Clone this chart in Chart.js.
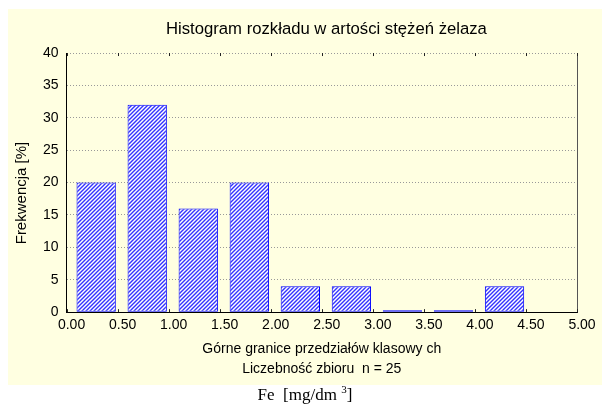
<!DOCTYPE html>
<html>
<head>
<meta charset="utf-8">
<script src="https://cdn.jsdelivr.net/npm/chart.js@4"></script>
<style>
  body { margin: 0; background: #fff; width: 602px; height: 408px; position: relative; overflow: hidden; }
  #panel { position: absolute; left: 8px; top: 9px; width: 594px; height: 376px; background: #ffffe1; }
  #unit { position: absolute; left: 8px; width: 594px; top: 383px; text-align: center; white-space: pre;
          font: 17px "Liberation Serif", "Times New Roman", serif; color: #000; }
  #unit sup { font-size: 11px; }
</style>
</head>
<body>
<div id="panel"><canvas id="histogram" width="594" height="376"></canvas></div>
<div id="unit">Fe  [mg/dm <sup>3</sup>]</div>
<script>
// upper bounds of the class intervals and the share of samples in each (%)
const upperBounds = [0.5, 1.0, 1.5, 2.0, 2.5, 3.0, 3.5, 4.0, 4.5];
const frequency = [20, 32, 16, 20, 4, 4, 0, 0, 4];

const titleText = 'Histogram rozkładu w artości stężeń żelaza';
const xTitle = ['Górne granice przedziałów klasowy ch', 'Liczebność zbioru  n = 25'];
const yTitle = 'Frekwencja [%]';

// Statistica draws each bar pushed up against its upper bound
const barShift = 0.21;

Chart.defaults.font.family = '"Liberation Sans", Arial, sans-serif';
Chart.defaults.color = '#000';

const hatch = (ctx) => {
  const c = document.createElement('canvas');
  c.width = 4; c.height = 4;
  const g = c.getContext('2d');
  g.fillStyle = '#fff';
  g.fillRect(0, 0, 4, 4);
  g.strokeStyle = '#3333ff';
  g.lineWidth = 1.4;
  g.beginPath();
  g.moveTo(-1, 5); g.lineTo(5, -1);
  g.moveTo(-1, 1); g.lineTo(1, -1);
  g.moveTo(3, 5); g.lineTo(5, 3);
  g.stroke();
  return ctx.createPattern(c, 'repeat');
};

// right edge of the plot box + small inward ticks top and bottom
const frame = {
  id: 'frame',
  afterDatasetsDraw(chart) {
    const { ctx, chartArea: a, scales: { x } } = chart;
    ctx.save();
    ctx.lineWidth = 1;
    ctx.strokeStyle = '#555';
    ctx.beginPath();
    ctx.moveTo(a.right + 0.5, a.top);
    ctx.lineTo(a.right + 0.5, a.bottom);
    ctx.stroke();
    ctx.strokeStyle = '#222';
    ctx.beginPath();
    x.ticks.forEach(t => {
      const px = Math.round(x.getPixelForValue(t.value)) + 0.5;
      ctx.moveTo(px, a.top); ctx.lineTo(px, a.top + 3);
      ctx.moveTo(px, a.bottom); ctx.lineTo(px, a.bottom - 3);
    });
    ctx.stroke();
    ctx.restore();
  }
};

const canvas = document.getElementById('histogram');
const ctx = canvas.getContext('2d');

new Chart(canvas, {
  type: 'bar',
  data: {
    datasets: [{
      label: 'Frekwencja',
      data: upperBounds.map((u, i) => ({ x: u - barShift, y: frequency[i] })),
      backgroundColor: hatch(ctx),
      borderColor: '#0000ff',
      borderWidth: 1,
      borderSkipped: false,
      minBarLength: 2,
      categoryPercentage: 1,
      barPercentage: 0.77
    }]
  },
  options: {
    responsive: false,
    animation: false,
    layout: { padding: { left: 5, right: 25, top: 0, bottom: 6 } },
    plugins: {
      legend: { display: false },
      tooltip: { enabled: false },
      title: {
        display: true,
        // leading blanks nudge the title right, as in the original
        text: '  ' + titleText,
        fullSize: false,
        color: '#000',
        font: { size: 16.7, weight: 'normal' },
        padding: { top: 10, bottom: 14 }
      }
    },
    scales: {
      x: {
        type: 'linear',
        min: 0,
        max: 5,
        offset: false,
        ticks: {
          stepSize: 0.5,
          autoSkip: false,
          maxRotation: 0,
          labelOffset: 5,
          padding: 5,
          font: { size: 14 },
          callback: v => v.toFixed(2)
        },
        grid: { display: false, drawTicks: false, offset: false },
        border: { color: '#000', width: 1 },
        title: {
          display: true,
          text: xTitle,
          font: { size: 14, lineHeight: 1.43 },
          padding: { top: 0, bottom: 0 }
        }
      },
      y: {
        min: 0,
        max: 40,
        ticks: { stepSize: 5, padding: 8, font: { size: 14 } },
        grid: { color: '#999', drawTicks: false },
        border: { color: '#000', dash: [1, 2] },
        title: {
          display: true,
          // trailing blanks push the label a bit down the axis
          text: yTitle + '     ',
          font: { size: 15 },
          padding: { top: 0, bottom: 4 }
        }
      }
    }
  },
  plugins: [frame]
});
</script>
</body>
</html>
